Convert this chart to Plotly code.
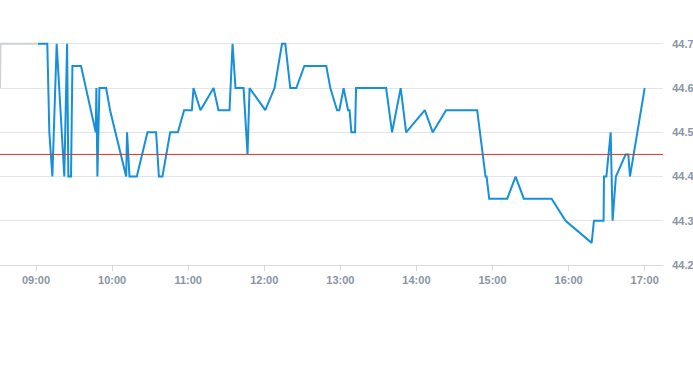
import plotly.graph_objects as go

DAY = "2024-01-02 "

times = [
    "09:01:36", "09:08:54", "09:10:30", "09:12:54", "09:16:18", "09:22:18", "09:24:30", "09:25:30",
    "09:27:36", "09:28:42", "09:35:30", "09:47:06", "09:47:36", "09:48:24", "09:50:00", "09:55:18",
    "09:58:24", "10:11:06", "10:11:48", "10:13:42", "10:19:30", "10:27:54", "10:34:42", "10:36:54",
    "10:39:42", "10:45:48", "10:51:54", "10:56:48", "11:02:54", "11:04:12", "11:09:42", "11:20:00",
    "11:23:54", "11:32:36", "11:35:00", "11:37:18", "11:43:42", "11:46:48", "11:48:24", "12:00:48",
    "12:08:06", "12:14:00", "12:16:36", "12:20:30", "12:25:18", "12:31:36", "12:48:54", "12:52:06",
    "12:57:24", "12:59:12", "13:02:36", "13:06:06", "13:07:18", "13:08:42", "13:11:36", "13:12:24",
    "13:36:06", "13:40:48", "13:47:36", "13:51:54", "14:06:36", "14:12:54", "14:23:24", "14:47:54",
    "14:54:30", "14:55:18", "14:57:24", "15:11:36", "15:18:12", "15:24:42", "15:46:36", "15:57:36",
    "16:18:12", "16:20:00", "16:27:36", "16:27:54", "16:29:48", "16:33:12", "16:34:42", "16:37:18",
    "16:45:00", "16:47:06", "16:48:24", "17:00:00",
]
prices = [
    44.7, 44.7, 44.5, 44.4, 44.7, 44.4, 44.7, 44.4,
    44.4, 44.65, 44.65, 44.5, 44.6, 44.4, 44.6, 44.6,
    44.55, 44.4, 44.5, 44.4, 44.4, 44.5, 44.5, 44.4,
    44.4, 44.5, 44.5, 44.55, 44.55, 44.6, 44.55, 44.6,
    44.55, 44.55, 44.7, 44.6, 44.6, 44.45, 44.6, 44.55,
    44.6, 44.7, 44.7, 44.6, 44.6, 44.65, 44.65, 44.6,
    44.55, 44.55, 44.6, 44.55, 44.55, 44.5, 44.5, 44.6,
    44.6, 44.5, 44.6, 44.5, 44.55, 44.5, 44.55, 44.55,
    44.4, 44.4, 44.35, 44.35, 44.4, 44.35, 44.35, 44.3,
    44.25, 44.3, 44.3, 44.4, 44.4, 44.5, 44.3, 44.4,
    44.45, 44.45, 44.4, 44.6,
]

pre_times = ["08:31:36", "08:32:00", "09:01:36"]
pre_prices = [44.6, 44.7, 44.7]

prev_close = 44.45

x_ticks = ["09:00", "10:00", "11:00", "12:00", "13:00", "14:00", "15:00", "16:00", "17:00"]
y_ticks = [44.2, 44.3, 44.4, 44.5, 44.6, 44.7]

fig = go.Figure()
fig.add_trace(go.Scatter(
    x=[DAY + t for t in pre_times], y=pre_prices, mode="lines",
    line=dict(color="#cdd1d6", width=2), hoverinfo="skip", showlegend=False,
))
fig.add_trace(go.Scatter(
    x=[DAY + t for t in times], y=prices, mode="lines",
    line=dict(color="#1790db", width=2), showlegend=False,
))
fig.add_hline(y=prev_close, line=dict(color="#d9342b", width=1))

fig.update_layout(
    width=693, height=365,
    margin=dict(l=0, r=30, t=35, b=100),
    paper_bgcolor="white", plot_bgcolor="white",
    font=dict(family="Liberation Sans", size=11, color="#8a94a4"),
    xaxis=dict(
        range=[DAY + "08:31:36", DAY + "17:14:27"],
        tickvals=[DAY + t for t in x_ticks], ticktext=x_ticks,
        showgrid=False, showline=True, linecolor="#d5d9de", linewidth=1,
        ticks="outside", ticklen=5, tickcolor="#d5d9de",
        tickfont=dict(size=11, color="#8a94a4", weight="bold"),
        zeroline=False,
    ),
    yaxis=dict(
        side="right", range=[44.2, 44.72],
        tickvals=y_ticks, ticktext=[f"{v:.1f}" for v in y_ticks],
        showgrid=True, gridcolor="#e3e5e8", gridwidth=1,
        ticks="outside", ticklen=6, tickcolor="rgba(0,0,0,0)",
        tickfont=dict(size=11, color="#8a94a4", weight="bold"),
        zeroline=False, showline=False,
    ),
)

fig.write_html(
    "out.html",
    config={"displayModeBar": False},
    post_script="document.body.style.margin='0';document.body.style.padding='0';document.body.style.overflow='hidden';",
)
